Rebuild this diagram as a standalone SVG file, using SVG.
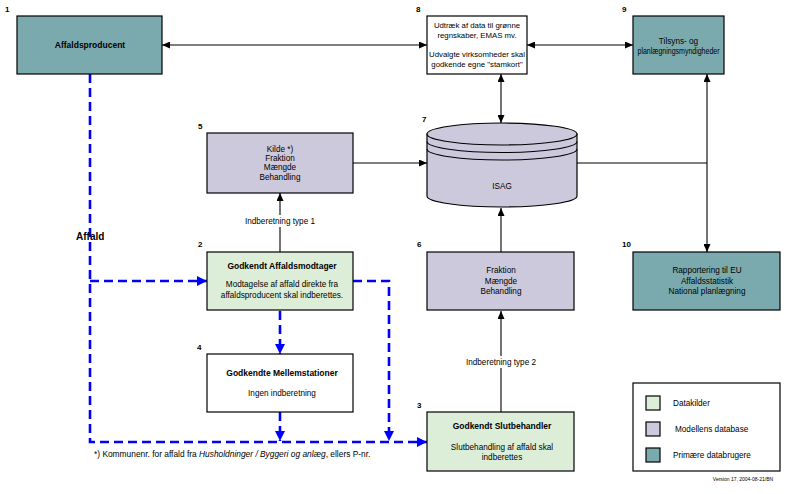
<svg xmlns="http://www.w3.org/2000/svg" width="795" height="494" viewBox="0 0 795 494">
<style>
text{font-family:"Liberation Sans",Arial,sans-serif;fill:#000}
.t{font-size:8.2px;text-anchor:middle}
.b{font-size:8.5px;font-weight:bold;text-anchor:middle}
.n{font-size:8px;font-weight:bold}
.box{stroke:#000;stroke-width:1.2}
.teal{fill:#7BAAAE}
.lav{fill:#CDC9DC}
.grn{fill:#DDEED8}
.wht{fill:#fff}
.c{stroke:#000;stroke-width:1.1;fill:none}
.d{stroke:#0000FF;stroke-width:2.6;fill:none;stroke-dasharray:9,5}
</style>
<defs>
<marker id="a" markerUnits="userSpaceOnUse" markerWidth="9" markerHeight="7" refX="8" refY="3.5" orient="auto-start-reverse">
<path d="M0,0 L8,3.5 L0,7 z" fill="#000"/>
</marker>
<marker id="ab" markerUnits="userSpaceOnUse" markerWidth="11" markerHeight="10" refX="10" refY="5" orient="auto-start-reverse">
<path d="M0,0 L10,5 L0,10 z" fill="#0000FF"/>
</marker>
</defs>
<rect width="795" height="494" fill="#fff"/>

<g id="connectors">
<line class="c" x1="162" y1="45" x2="427" y2="45" marker-start="url(#a)" marker-end="url(#a)"/>
<line class="c" x1="527" y1="45" x2="633" y2="45" marker-start="url(#a)" marker-end="url(#a)"/>
<line class="c" x1="501" y1="74" x2="501" y2="123" marker-start="url(#a)" marker-end="url(#a)"/>
<line class="c" x1="707" y1="74" x2="707" y2="252" marker-start="url(#a)" marker-end="url(#a)"/>
<line class="c" x1="577" y1="163" x2="707" y2="163"/>
<line class="c" x1="353" y1="163" x2="427" y2="163" marker-end="url(#a)"/>
<line class="c" x1="280" y1="252" x2="280" y2="193" marker-end="url(#a)"/>
<line class="c" x1="501" y1="252" x2="501" y2="208" marker-end="url(#a)"/>
<line class="c" x1="501" y1="412" x2="501" y2="311" marker-end="url(#a)"/>
<rect x="243" y="215" width="74" height="12" fill="#fff"/>
<text class="t" x="280" y="224">Indberetning type 1</text>
<rect x="464" y="356" width="74" height="12" fill="#fff"/>
<text class="t" x="501" y="365">Indberetning type 2</text>

<path class="d" d="M90,74 V442 H427" marker-end="url(#ab)"/>
<path class="d" d="M90,281 H207" marker-end="url(#ab)"/>
<path class="d" d="M280,311 V354" marker-end="url(#ab)"/>
<path class="d" d="M280,412 V441" marker-end="url(#ab)"/>
<path class="d" d="M353,281 H389 V441" marker-end="url(#ab)"/>
<text x="76" y="240" style="font-size:10px;font-weight:bold">Affald</text>
</g>

<g id="n1">
<rect class="box teal" x="17" y="16" width="145" height="58"/>
<text class="b" x="90" y="48">Affaldsproducent</text>
<text class="n" x="5" y="12">1</text>
</g>

<g id="n8">
<rect class="box wht" x="427" y="16" width="100" height="58"/>
<text class="t" x="477" y="28" style="font-size:7.8px">Udtræk af data til grønne</text>
<text class="t" x="477" y="38" style="font-size:7.8px">regnskaber, EMAS mv.</text>
<text class="t" x="477" y="57" style="font-size:7.8px">Udvalgte virksomheder skal</text>
<text class="t" x="477" y="67" style="font-size:7.8px">godkende egne "stamkort"</text>
<text class="n" x="416" y="12">8</text>
</g>

<g id="n9">
<rect class="box teal" x="633" y="16" width="91" height="58"/>
<text class="t" x="678.5" y="44">Tilsyns- og</text>
<text class="t" x="678.5" y="54" textLength="82" lengthAdjust="spacingAndGlyphs">planlægningsmyndigheder</text>
<text class="n" x="622" y="12">9</text>
</g>

<g id="n5">
<rect class="box lav" x="207" y="133" width="146" height="60"/>
<text class="t" x="280" y="152">Kilde *)</text>
<text class="t" x="280" y="161">Fraktion</text>
<text class="t" x="280" y="170">Mængde</text>
<text class="t" x="280" y="180">Behandling</text>
<text class="n" x="198" y="129">5</text>
</g>

<g id="n7">
<path class="box lav" d="M427,134 V196 A75,11 0 0 0 577,196 V134 z"/>
<ellipse class="box lav" cx="502" cy="134" rx="75" ry="11"/>
<path class="c" d="M427,141.5 A75,11 0 0 0 577,141.5"/>
<path class="c" d="M427,149 A75,11 0 0 0 577,149"/>
<text class="t" x="502" y="189">ISAG</text>
<text class="n" x="422" y="122">7</text>
</g>

<g id="n2">
<rect class="box grn" x="207" y="252" width="146" height="58"/>
<text class="b" x="282" y="269">Godkendt Affaldsmodtager</text>
<text class="t" x="282" y="287">Modtagelse af affald direkte fra</text>
<text class="t" x="282" y="298">affaldsproducent skal indberettes.</text>
<text class="n" x="198" y="247">2</text>
</g>

<g id="n6">
<rect class="box lav" x="427" y="252" width="147" height="58"/>
<text class="t" x="501" y="273">Fraktion</text>
<text class="t" x="501" y="284">Mængde</text>
<text class="t" x="501" y="294">Behandling</text>
<text class="n" x="417" y="247">6</text>
</g>

<g id="n10">
<rect class="box teal" x="633" y="252" width="147" height="58"/>
<text class="t" x="707" y="273">Rapportering til EU</text>
<text class="t" x="707" y="284">Affaldsstatistik</text>
<text class="t" x="707" y="294">National planlægning</text>
<text class="n" x="622" y="247">10</text>
</g>

<g id="n4">
<rect class="box wht" x="207" y="354" width="146" height="58"/>
<text class="b" x="282" y="376">Godkendte Mellemstationer</text>
<text class="t" x="282" y="396">Ingen indberetning</text>
<text class="n" x="197" y="350">4</text>
</g>

<g id="n3">
<rect class="box grn" x="427" y="412" width="147" height="59"/>
<text class="b" x="502" y="429">Godkendt Slutbehandler</text>
<text class="t" x="502" y="450">Slutbehandling af affald skal</text>
<text class="t" x="502" y="460">indberettes</text>
<text class="n" x="417" y="408">3</text>
</g>

<g id="legend">
<rect class="box wht" x="633" y="383" width="147" height="88"/>
<rect class="box grn" x="646" y="396" width="14" height="14"/>
<rect class="box lav" x="646" y="422" width="14" height="14"/>
<rect class="box teal" x="646" y="448" width="14" height="14"/>
<text x="673" y="406" style="font-size:8.2px">Datakilder</text>
<text x="675" y="432" style="font-size:8.2px">Modellens database</text>
<text x="673" y="458" style="font-size:8.2px">Primære databrugere</text>
<text x="743" y="481" style="font-size:5px;text-anchor:middle">Version 17, 2004-08-21/BN</text>
</g>

<text x="94" y="457" style="font-size:8.4px">*) Kommunenr. for affald fra  <tspan font-style="italic">Husholdninger / Byggeri og anlæg</tspan>, ellers P-nr.</text>
</svg>
